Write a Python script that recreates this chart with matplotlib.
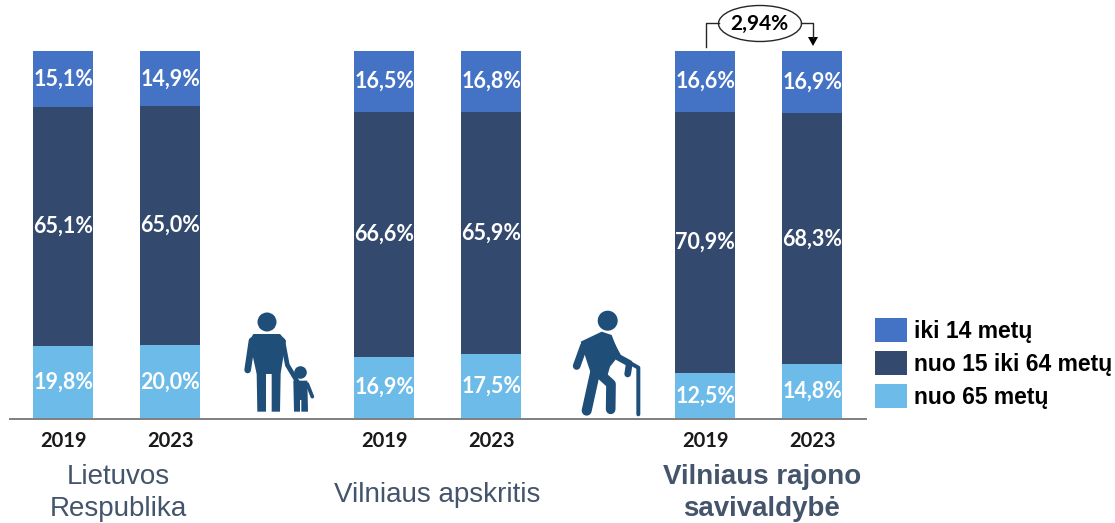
#!/usr/bin/env python3

import matplotlib
matplotlib.use('Agg')
import matplotlib.pyplot as plt
from matplotlib.lines import Line2D
from matplotlib.patches import Circle, Ellipse, Polygon

W, H = 1115, 523

positions = [0, 1, 3, 4, 6, 7]
years = ['2019', '2023', '2019', '2023', '2019', '2023']
old = [19.8, 20.0, 16.9, 17.5, 12.5, 14.8]
middle = [65.1, 65.0, 66.6, 65.9, 70.9, 68.3]
young = [15.1, 14.9, 16.5, 16.8, 16.6, 16.9]
legend_labels = ['iki 14 metų', 'nuo 15 iki 64 metų', 'nuo 65 metų']
change_label = '2,94%'

col_young = '#4472C4'
col_middle = '#34496E'
col_old = '#6DBBE8'
col_icon = '#1F4E79'
col_group = '#44546A'

plt.rcParams['font.family'] = ['Liberation Sans', 'DejaVu Sans']

fig = plt.figure(figsize=(W / 100, H / 100), dpi=100)

# chart area, 100 % is about 368 px high
ax = fig.add_axes([9.8 / W, (H - 418.7) / H, 856 / W, 367.7 / H])
b1 = ax.bar(positions, old, 0.56, color=col_old)
b2 = ax.bar(positions, middle, 0.56, bottom=old, color=col_middle)
bottoms = [o + m for o, m in zip(old, middle)]
b3 = ax.bar(positions, young, 0.56, bottom=bottoms, color=col_young)

for bars, vals in ((b1, old), (b2, middle), (b3, young)):
    for bar, v in zip(bars, vals):
        ax.text(bar.get_x() + bar.get_width() / 2,
                bar.get_y() + bar.get_height() / 2,
                ('%.1f%%' % v).replace('.', ','), color='white',
                ha='center', va='center', family='Lato',
                fontweight='bold', fontsize=15.5)

ax.set_xlim(-0.5, 7.5)
ax.set_ylim(0, 100)
ax.set_yticks([])
ax.set_xticks(positions)
ax.set_xticklabels(years, family='Lato', fontweight='bold', fontsize=14.5,
                   color='#1a1a1a')
ax.tick_params(axis='x', length=0, pad=9)
for name, spine in ax.spines.items():
    spine.set_visible(name == 'bottom')
ax.spines['bottom'].set_color('#7f7f7f')
ax.spines['bottom'].set_linewidth(1.4)
ax.patch.set_alpha(0)

ax.legend([b3, b2, b1], legend_labels, frameon=False,
          loc='upper left', bbox_to_anchor=(875 / W, 1 - 318 / H),
          bbox_transform=fig.transFigure, borderaxespad=0, borderpad=0,
          handlelength=1.4, handleheight=1.235, handletextpad=0.3,
          labelspacing=0.37,
          prop={'family': 'Liberation Sans', 'weight': 'bold', 'size': 16.5})

# overlay in image pixels for the icons and the change marker
ov = fig.add_axes([0, 0, 1, 1])
ov.set_xlim(0, W)
ov.set_ylim(H, 0)
ov.axis('off')


def limb(x0, y0, pts, width, col=col_icon):
    xs = [x0 + p[0] / 3 for p in pts]
    ys = [y0 + p[1] / 3 for p in pts]
    ov.add_line(Line2D(xs, ys, color=col, lw=width / 3 * 0.72,
                       solid_capstyle='round', solid_joinstyle='round'))


def poly(x0, y0, pts, col=col_icon):
    ov.add_patch(Polygon([(x0 + p[0] / 3, y0 + p[1] / 3) for p in pts],
                         closed=True, color=col, lw=0))


# parent and child
ov.add_patch(Circle((267, 322), 9.5, color=col_icon, lw=0))
poly(230, 300, [(70, 102), (150, 102), (168, 122), (152, 220), (150, 335),
                (125, 335), (125, 222), (108, 222), (108, 335), (82, 335),
                (80, 222), (58, 122)])
limb(230, 300, [(66, 122), (53, 210)], 20)
limb(230, 300, [(158, 120), (172, 195), (205, 250)], 14)
ov.add_patch(Circle((300.5, 372.5), 6.3, color=col_icon, lw=0))
poly(230, 300, [(190, 242), (232, 242), (234, 335), (214, 335), (214, 300),
                (210, 300), (210, 335), (192, 335)])
limb(230, 300, [(232, 252), (247, 290)], 11)

# elderly man with cane
ov.add_patch(Circle((607.7, 320.7), 10, color=col_icon, lw=0))
poly(560, 300, [(62, 125), (125, 95), (155, 105), (178, 165), (150, 200),
                (140, 235), (98, 235), (84, 195)])
limb(560, 300, [(72, 137), (50, 198)], 23)
limb(560, 300, [(150, 125), (175, 172), (208, 190), (203, 222)], 20)
limb(560, 300, [(120, 222), (153, 252), (152, 328)], 29)
limb(560, 300, [(108, 205), (80, 332)], 30)
limb(560, 300, [(212, 190), (235, 203), (235, 343)], 12)

# change marker above the last two bars
ov.add_line(Line2D([706, 706, 719], [47, 23, 23], color='#262626', lw=1))
ov.add_line(Line2D([801, 813, 813], [23, 23, 38], color='#262626', lw=1))
ov.add_patch(Polygon([(808, 37), (818, 37), (813, 46)], closed=True,
                     color='black', lw=0))
ov.add_patch(Ellipse((760, 23.5), 83, 36, fc='white', ec='#262626', lw=1))
ov.text(759.5, 23.5, change_label, ha='center', va='center', family='Lato',
        fontweight='bold', fontsize=15, color='black')

# group names
ov.text(118, 493, 'Lietuvos\nRespublika', ha='center', va='center',
        fontsize=20, color=col_group, linespacing=1.26)
ov.text(437, 495, 'Vilniaus apskritis', ha='center', va='center',
        fontsize=20, color=col_group)
ov.text(762, 493, 'Vilniaus rajono\nsavivaldybė', ha='center', va='center',
        fontsize=20, fontweight='bold', color=col_group, linespacing=1.26)

fig.savefig('out.png', dpi=100)
